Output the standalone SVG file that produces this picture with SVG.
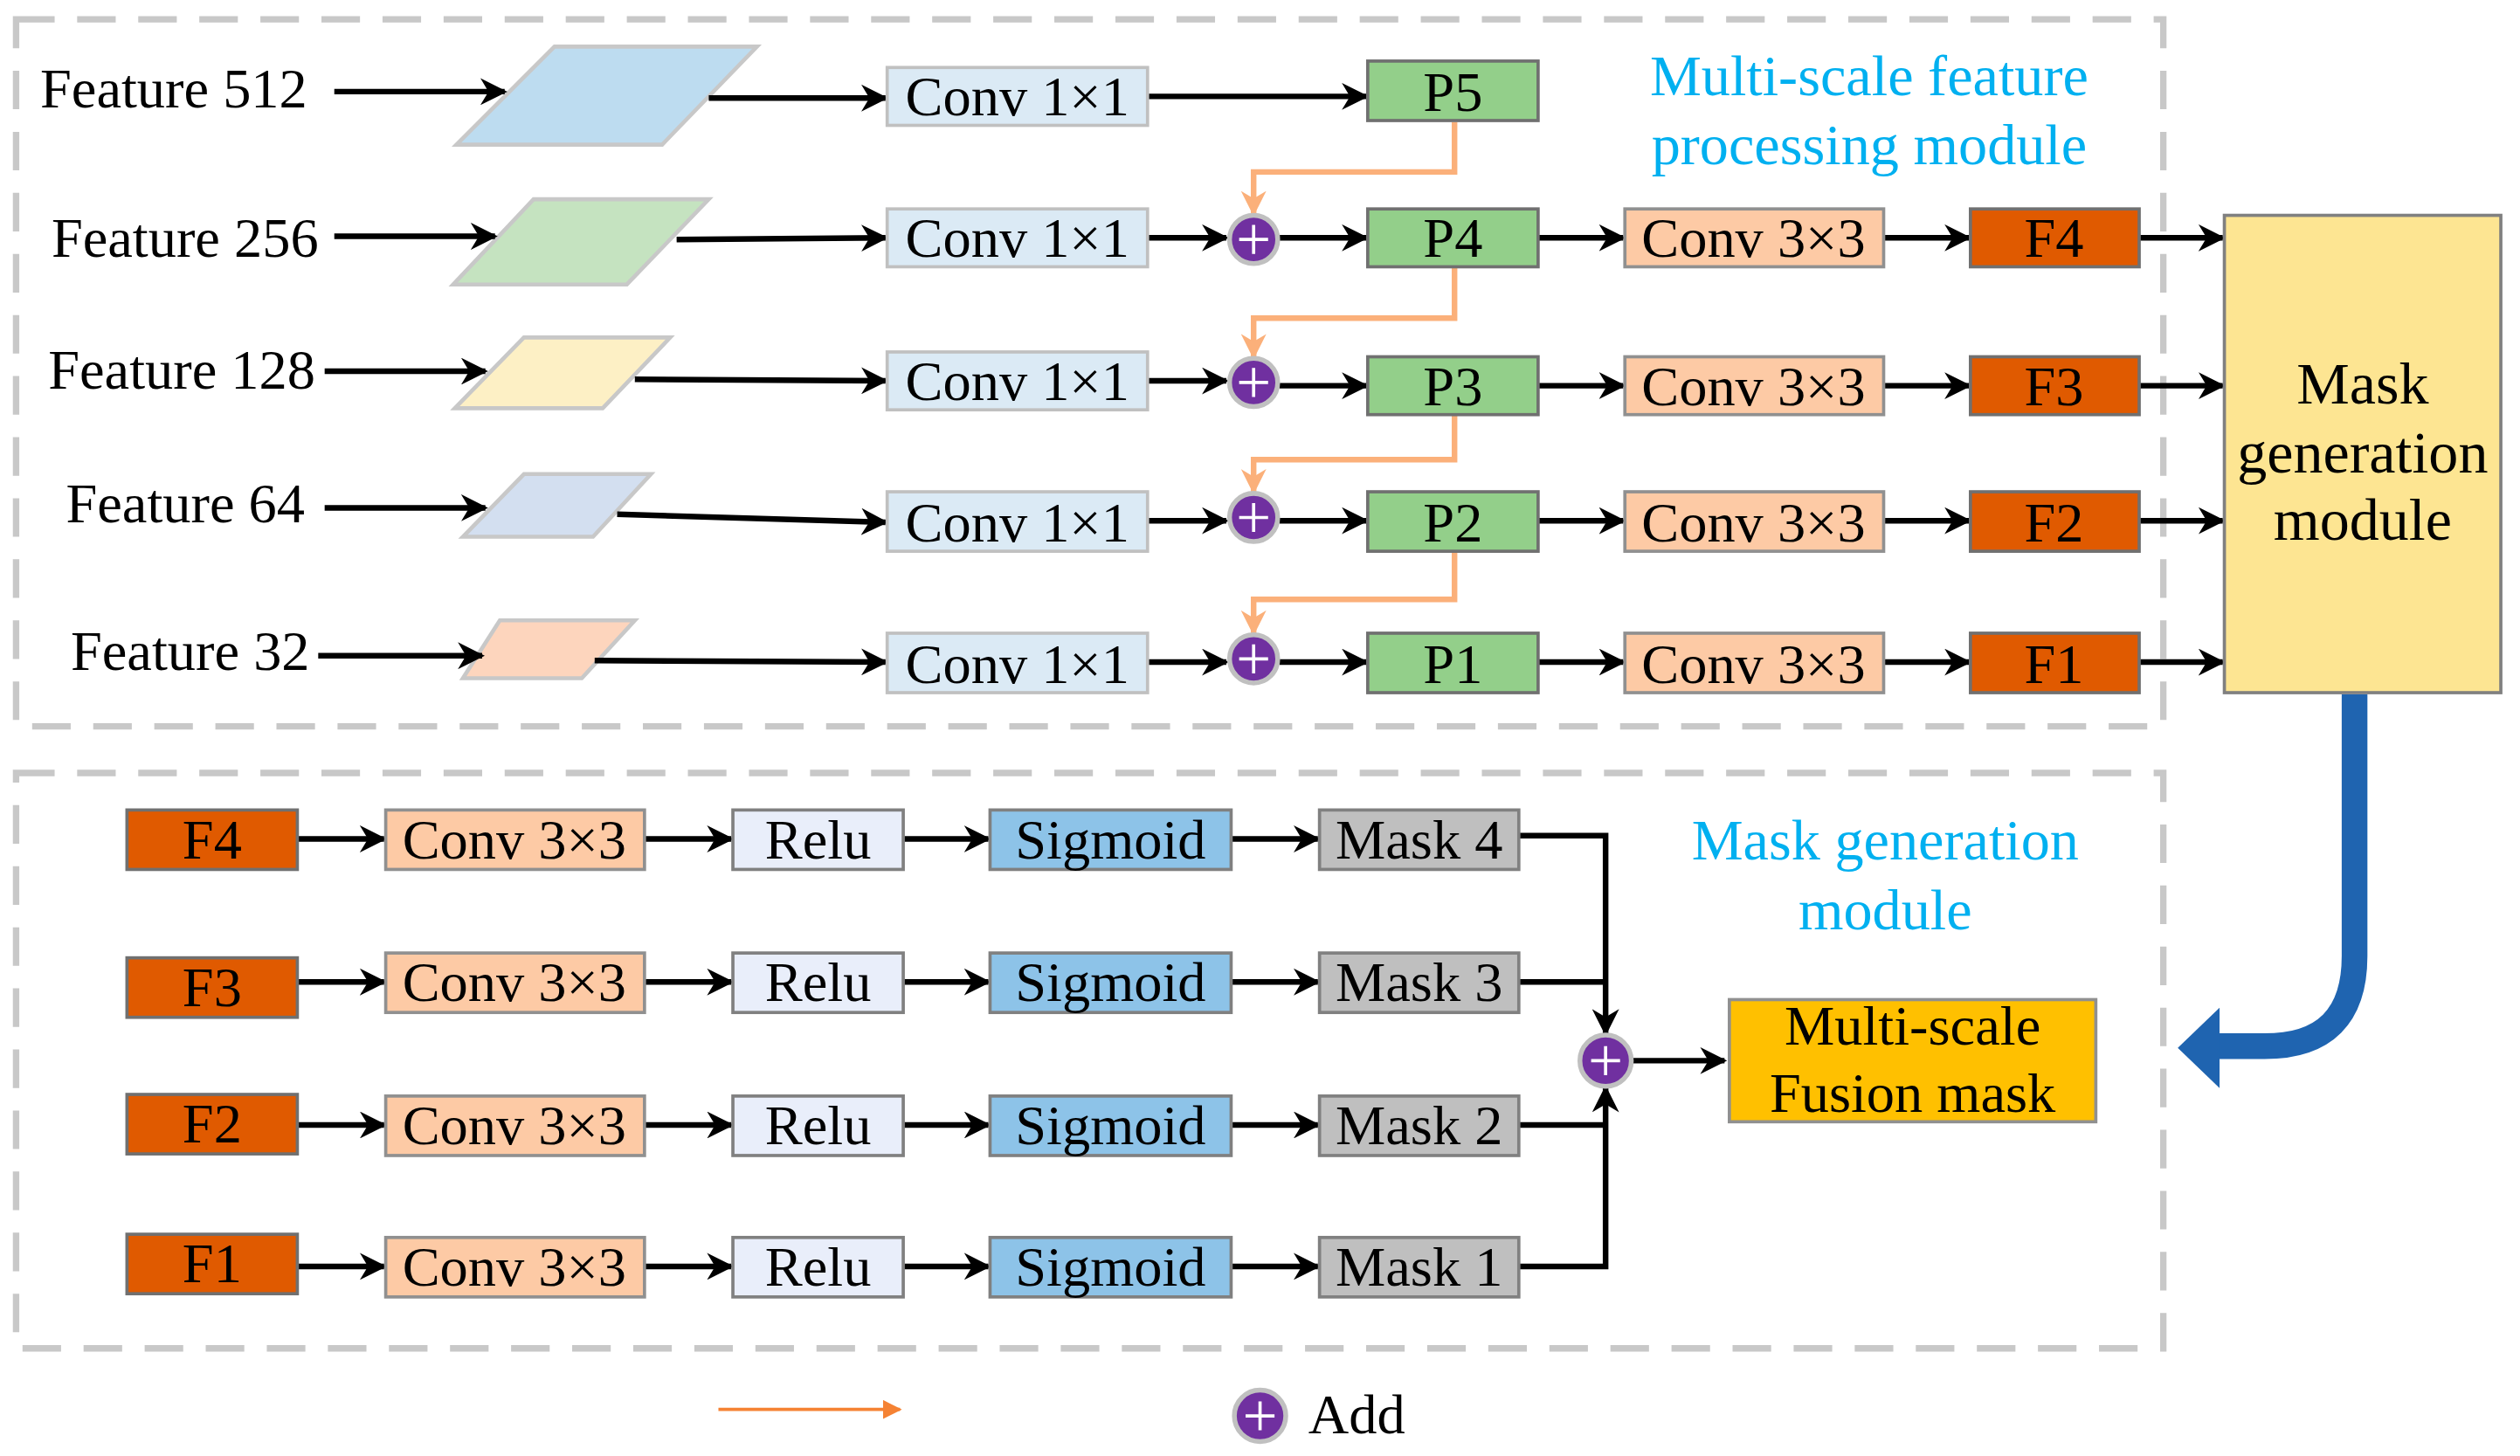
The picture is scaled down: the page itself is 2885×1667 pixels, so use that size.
<svg xmlns="http://www.w3.org/2000/svg" width="2885" height="1667" viewBox="0 0 2885 1667">
<defs>
<style>
text{font-family:"Liberation Serif","Times New Roman",serif;font-size:35px;fill:#000;text-anchor:middle}
.lbl{text-anchor:start}
.t{fill:#00b0f0;font-size:36px}
.mg{font-size:37px}
.ln{stroke:#000;stroke-width:3.5;fill:none}
.or{stroke:#fbb07a;stroke-width:3.5;fill:none}
.conv1{fill:#dbeaf5;stroke:#c0c0c0;stroke-width:2}
.p{fill:#93cf8a;stroke:#707070;stroke-width:2}
.c3{fill:#fdcaa5;stroke:#909090;stroke-width:2}
.f{fill:#e05a00;stroke:#707070;stroke-width:2}
.relu{fill:#e9eefa;stroke:#808080;stroke-width:2}
.sig{fill:#8dc3e8;stroke:#808080;stroke-width:2}
.mask{fill:#bfbfbf;stroke:#808080;stroke-width:2}
.para{stroke:#c8c8c8;stroke-width:2.5}
.add{fill:#7030a0;stroke:#c0c0c0;stroke-width:3}
.plus{stroke:#fff;stroke-width:2}
.dash{fill:none;stroke:#c8c8c8;stroke-width:4;stroke-dasharray:24 14}
</style>
<marker id="ah" viewBox="0 0 10 10" refX="9" refY="5" markerWidth="4.8" markerHeight="4.8" orient="auto" markerUnits="strokeWidth"><path d="M0,0 L10,5 L0,10 L3,5 Z" fill="#000"/></marker>
<marker id="ao" viewBox="0 0 10 10" refX="9" refY="5" markerWidth="4.5" markerHeight="4.5" orient="auto" markerUnits="strokeWidth"><path d="M0,0 L10,5 L0,10 L3,5 Z" fill="#fbb07a"/></marker>
<marker id="al" viewBox="0 0 10 10" refX="9" refY="5" markerWidth="6" markerHeight="6" orient="auto" markerUnits="strokeWidth"><path d="M0,0 L10,5 L0,10 Z" fill="#f58233"/></marker>
</defs>
<rect width="2885" height="1667" fill="#fff"/>
<g transform="scale(1.84)">
<g id="frames">
<rect class="dash" x="10" y="12" width="1336" height="440"/>
<rect class="dash" x="10" y="481" width="1336" height="358"/>
</g>
<g id="titles">
<text class="t" x="1163" y="59">Multi-scale feature</text>
<text class="t" x="1163" y="102">processing module</text>
<text class="t" x="1173" y="535">Mask generation</text>
<text class="t" x="1173" y="578">module</text>
</g>
<g id="features">
<text class="lbl" x="25" y="67">Feature 512</text>
<text class="lbl" x="32" y="160">Feature 256</text>
<text class="lbl" x="30" y="242">Feature 128</text>
<text class="lbl" x="41" y="325">Feature 64</text>
<text class="lbl" x="44" y="417">Feature 32</text>
</g>
<g id="paras">
<polygon class="para" fill="#bddcf0" points="284,90 345,29 471,29 412,90"/>
<polygon class="para" fill="#c5e3c0" points="282,177 332,124 441,124 390,177"/>
<polygon class="para" fill="#fdf0c5" points="283,254 326,210 417,210 375,254"/>
<polygon class="para" fill="#d3dff0" points="288,334 326,295 405,295 369,334"/>
<polygon class="para" fill="#fdd5bd" points="288,422 311,386 395,386 362,422"/>
</g>
<g id="connectors">
<path class="ln" marker-end="url(#ah)" d="M208,57 H314"/>
<path class="ln" marker-end="url(#ah)" d="M208,147 H308"/>
<path class="ln" marker-end="url(#ah)" d="M202,231 H302"/>
<path class="ln" marker-end="url(#ah)" d="M202,316 H302"/>
<path class="ln" marker-end="url(#ah)" d="M198,408 H300"/>
<path class="ln" marker-end="url(#ah)" d="M441,61 H551"/>
<path class="ln" marker-end="url(#ah)" d="M421,149 L551,148"/>
<path class="ln" marker-end="url(#ah)" d="M395,236 L551,237"/>
<path class="ln" marker-end="url(#ah)" d="M384,320 L551,325"/>
<path class="ln" marker-end="url(#ah)" d="M370,411 L551,412"/>
<path class="ln" marker-end="url(#ah)" d="M714,60 H850"/>
<path class="ln" marker-end="url(#ah)" d="M714,148 H763"/>
<path class="ln" marker-end="url(#ah)" d="M714,237 H763"/>
<path class="ln" marker-end="url(#ah)" d="M714,324 H763"/>
<path class="ln" marker-end="url(#ah)" d="M714,412 H763"/>
<path class="ln" marker-end="url(#ah)" d="M796,148 H850"/>
<path class="ln" marker-end="url(#ah)" d="M796,240 H850"/>
<path class="ln" marker-end="url(#ah)" d="M796,324 H850"/>
<path class="ln" marker-end="url(#ah)" d="M796,412 H850"/>
<path class="ln" marker-end="url(#ah)" d="M957,148 H1010"/>
<path class="ln" marker-end="url(#ah)" d="M957,240 H1010"/>
<path class="ln" marker-end="url(#ah)" d="M957,324 H1010"/>
<path class="ln" marker-end="url(#ah)" d="M957,412 H1010"/>
<path class="ln" marker-end="url(#ah)" d="M1172,148 H1225"/>
<path class="ln" marker-end="url(#ah)" d="M1172,240 H1225"/>
<path class="ln" marker-end="url(#ah)" d="M1172,324 H1225"/>
<path class="ln" marker-end="url(#ah)" d="M1172,412 H1225"/>
<path class="ln" marker-end="url(#ah)" d="M1331,148 H1383"/>
<path class="ln" marker-end="url(#ah)" d="M1331,240 H1383"/>
<path class="ln" marker-end="url(#ah)" d="M1331,324 H1383"/>
<path class="ln" marker-end="url(#ah)" d="M1331,412 H1383"/>
<path class="or" marker-end="url(#ao)" d="M905,76 V107 H780 V133"/>
<path class="or" marker-end="url(#ao)" d="M905,166 V198 H780 V222"/>
<path class="or" marker-end="url(#ao)" d="M905,258 V286 H780 V306"/>
<path class="or" marker-end="url(#ao)" d="M905,343 V373 H780 V394"/>
<path class="ln" marker-end="url(#ah)" d="M185,522 H239"/>
<path class="ln" marker-end="url(#ah)" d="M401,522 H455"/>
<path class="ln" marker-end="url(#ah)" d="M562,522 H615"/>
<path class="ln" marker-end="url(#ah)" d="M766,522 H820"/>
<path class="ln" marker-end="url(#ah)" d="M185,611 H239"/>
<path class="ln" marker-end="url(#ah)" d="M401,611 H455"/>
<path class="ln" marker-end="url(#ah)" d="M562,611 H615"/>
<path class="ln" marker-end="url(#ah)" d="M766,611 H820"/>
<path class="ln" marker-end="url(#ah)" d="M185,700 H239"/>
<path class="ln" marker-end="url(#ah)" d="M401,700 H455"/>
<path class="ln" marker-end="url(#ah)" d="M562,700 H615"/>
<path class="ln" marker-end="url(#ah)" d="M766,700 H820"/>
<path class="ln" marker-end="url(#ah)" d="M185,788 H239"/>
<path class="ln" marker-end="url(#ah)" d="M401,788 H455"/>
<path class="ln" marker-end="url(#ah)" d="M562,788 H615"/>
<path class="ln" marker-end="url(#ah)" d="M766,788 H820"/>
<path class="ln" marker-end="url(#ah)" d="M945,520 H999 V643"/>
<path class="ln" d="M945,611 H999"/>
<path class="ln" marker-end="url(#ah)" d="M945,788 H999 V677"/>
<path class="ln" d="M945,700 H999"/>
<path class="ln" marker-end="url(#ah)" d="M1016,660 H1073"/>
<path d="M1465,432 V595 Q1465,651 1409,651 H1378" fill="none" stroke="#1f64b0" stroke-width="16"/>
<polygon points="1355,652 1381,627 1381,677" fill="#1f64b0"/>
<path d="M447,877 H560" stroke="#f58233" stroke-width="2" fill="none" marker-end="url(#al)"/>
</g>
<g id="conv1">
<rect class="conv1" x="552" y="42" width="162" height="36"/><text x="633" y="72">Conv 1×1</text>
<rect class="conv1" x="552" y="130" width="162" height="36"/><text x="633" y="160">Conv 1×1</text>
<rect class="conv1" x="552" y="219" width="162" height="36"/><text x="633" y="249">Conv 1×1</text>
<rect class="conv1" x="552" y="306" width="162" height="37"/><text x="633" y="337">Conv 1×1</text>
<rect class="conv1" x="552" y="394" width="162" height="37"/><text x="633" y="425">Conv 1×1</text>
</g>
<g id="adds">
<circle class="add" cx="780" cy="149" r="15"/><path class="plus" d="M771,149 H789 M780,140 V158"/>
<circle class="add" cx="780" cy="238" r="15"/><path class="plus" d="M771,238 H789 M780,229 V247"/>
<circle class="add" cx="780" cy="322" r="15"/><path class="plus" d="M771,322 H789 M780,313 V331"/>
<circle class="add" cx="780" cy="410" r="15"/><path class="plus" d="M771,410 H789 M780,401 V419"/>
<circle class="add" cx="999" cy="660" r="16"/><path class="plus" d="M990,660 H1008 M999,651 V669"/>
</g>
<g id="pboxes">
<rect class="p" x="851" y="38" width="106" height="37"/><text x="904" y="69">P5</text>
<rect class="p" x="851" y="130" width="106" height="36"/><text x="904" y="160">P4</text>
<rect class="p" x="851" y="222" width="106" height="36"/><text x="904" y="252">P3</text>
<rect class="p" x="851" y="306" width="106" height="37"/><text x="904" y="337">P2</text>
<rect class="p" x="851" y="394" width="106" height="37"/><text x="904" y="425">P1</text>
</g>
<g id="conv3top">
<rect class="c3" x="1011" y="130" width="161" height="36"/><text x="1091" y="160">Conv 3×3</text>
<rect class="c3" x="1011" y="222" width="161" height="36"/><text x="1091" y="252">Conv 3×3</text>
<rect class="c3" x="1011" y="306" width="161" height="37"/><text x="1091" y="337">Conv 3×3</text>
<rect class="c3" x="1011" y="394" width="161" height="37"/><text x="1091" y="425">Conv 3×3</text>
</g>
<g id="ftop">
<rect class="f" x="1226" y="130" width="105" height="36"/><text x="1278" y="160">F4</text>
<rect class="f" x="1226" y="222" width="105" height="36"/><text x="1278" y="252">F3</text>
<rect class="f" x="1226" y="306" width="105" height="37"/><text x="1278" y="337">F2</text>
<rect class="f" x="1226" y="394" width="105" height="37"/><text x="1278" y="425">F1</text>
</g>
<g id="maskgen">
<rect x="1384" y="134" width="172" height="297" fill="#fde592" stroke="#808080" stroke-width="2"/>
<text class="mg" x="1470" y="251">Mask</text>
<text class="mg" x="1470" y="294">generation</text>
<text class="mg" x="1470" y="336">module</text>
</g>
<g id="row4">
<rect class="f" x="79" y="504" width="106" height="37"/><text x="132" y="534">F4</text>
<rect class="c3" x="240" y="504" width="161" height="37"/><text x="320" y="534">Conv 3×3</text>
<rect class="relu" x="456" y="504" width="106" height="37"/><text x="509" y="534">Relu</text>
<rect class="sig" x="616" y="504" width="150" height="37"/><text x="691" y="534">Sigmoid</text>
<rect class="mask" x="821" y="504" width="124" height="37"/><text x="883" y="534">Mask 4</text>
</g>
<g id="row3">
<rect class="f" x="79" y="596" width="106" height="37"/><text x="132" y="626">F3</text>
<rect class="c3" x="240" y="593" width="161" height="37"/><text x="320" y="623">Conv 3×3</text>
<rect class="relu" x="456" y="593" width="106" height="37"/><text x="509" y="623">Relu</text>
<rect class="sig" x="616" y="593" width="150" height="37"/><text x="691" y="623">Sigmoid</text>
<rect class="mask" x="821" y="593" width="124" height="37"/><text x="883" y="623">Mask 3</text>
</g>
<g id="row2">
<rect class="f" x="79" y="681" width="106" height="37"/><text x="132" y="711">F2</text>
<rect class="c3" x="240" y="682" width="161" height="37"/><text x="320" y="712">Conv 3×3</text>
<rect class="relu" x="456" y="682" width="106" height="37"/><text x="509" y="712">Relu</text>
<rect class="sig" x="616" y="682" width="150" height="37"/><text x="691" y="712">Sigmoid</text>
<rect class="mask" x="821" y="682" width="124" height="37"/><text x="883" y="712">Mask 2</text>
</g>
<g id="row1">
<rect class="f" x="79" y="768" width="106" height="37"/><text x="132" y="798">F1</text>
<rect class="c3" x="240" y="770" width="161" height="37"/><text x="320" y="800">Conv 3×3</text>
<rect class="relu" x="456" y="770" width="106" height="37"/><text x="509" y="800">Relu</text>
<rect class="sig" x="616" y="770" width="150" height="37"/><text x="691" y="800">Sigmoid</text>
<rect class="mask" x="821" y="770" width="124" height="37"/><text x="883" y="800">Mask 1</text>
</g>
<g id="fusion">
<rect x="1076" y="622" width="228" height="76" fill="#ffc000" stroke="#909090" stroke-width="2"/>
<text x="1190" y="650">Multi-scale</text>
<text x="1190" y="692">Fusion mask</text>
</g>
<g id="legend">
<circle class="add" cx="784" cy="881" r="16"/><path class="plus" d="M775,881 H793 M784,872 V890"/>
<text class="lbl" x="814" y="892">Add</text>
</g>
</g>
</svg>
